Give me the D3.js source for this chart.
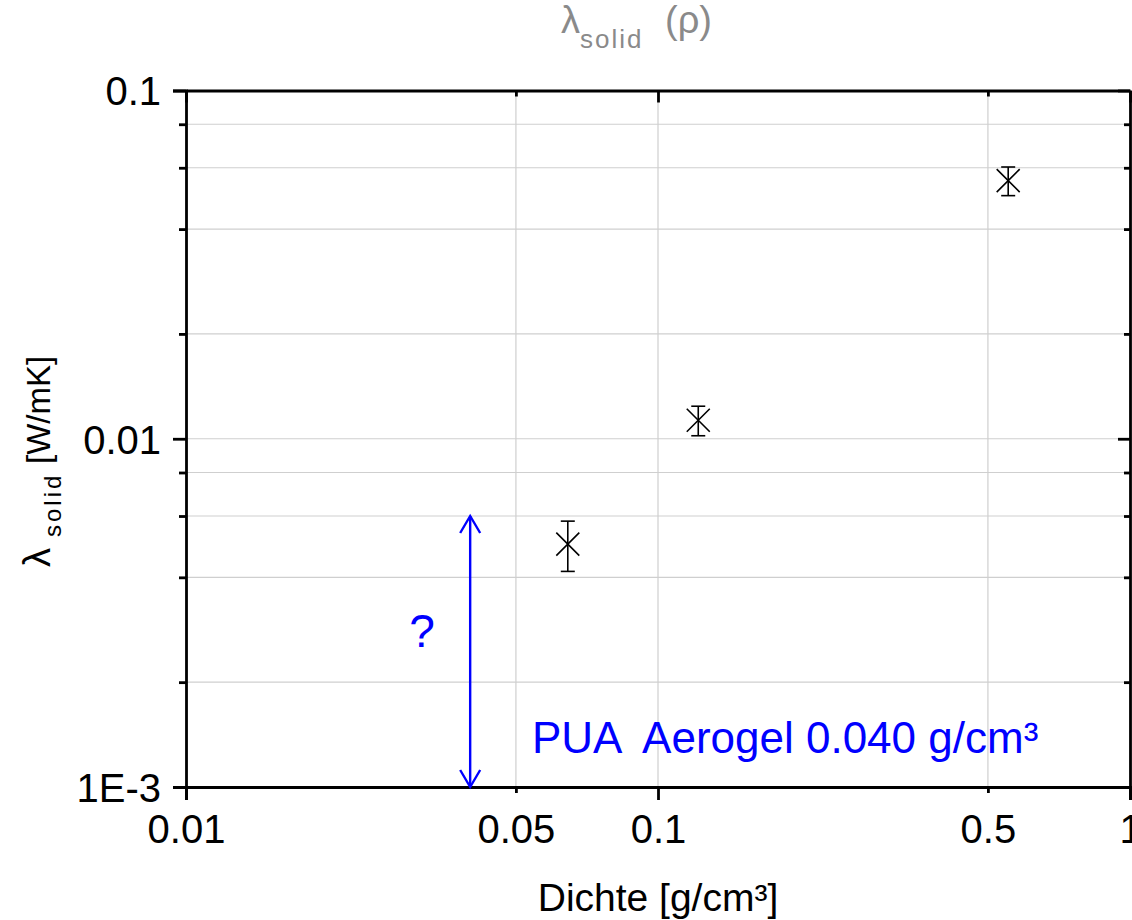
<!DOCTYPE html>
<html>
<head>
<meta charset="utf-8">
<script src="https://cdn.jsdelivr.net/npm/d3@7"></script>
<style>
  body { margin: 0; background: #fff; }
  text { font-family: Arial, "Liberation Sans", Helvetica, sans-serif; }
</style>
</head>
<body>
<svg id="chart" width="1132" height="920"></svg>
<script>
// Solid thermal conductivity vs. density (log-log)
const densities   = [0.0644, 0.1217, 0.552];     // g/cm³
const lambdaSolid = [0.00498, 0.0113, 0.0551];   // W/mK
const lambdaErr   = [0.00082, 0.0011, 0.0052];   // ± W/mK

const xTickValues = [0.01, 0.05, 0.1, 0.5, 1];
const xTickLabels = ["0.01", "0.05", "0.1", "0.5", "1"];
const xMajorTicks = [0.01, 0.1, 1];
const yTickValues = [0.001, 0.01, 0.1];
const yTickLabels = ["1E-3", "0.01", "0.1"];
const yMinorTicks = [0.002, 0.004, 0.006, 0.008, 0.02, 0.04, 0.06, 0.08];

// PUA aerogel annotation: density and the open λ range
const aerogelDensity = [0.040];
const aerogelRange   = [0.001, 0.006];
const aerogelLabel   = ["PUA  Aerogel 0.040 g/cm³"];

const svg = d3.select("#chart");
const L = 186, R = 1130, T = 90.5, B = 787;

const x = d3.scaleLog().domain([0.01, 1]).range([L, R]);
const y = d3.scaleLog().domain([0.001, 0.1]).range([B, T]);

const grid = "#cfcfcf", axisW = 2.8, ink = "#000";

// grid lines
svg.append("g").selectAll("line")
  .data(yMinorTicks.concat([0.01]))
  .join("line")
  .attr("x1", L).attr("x2", R)
  .attr("y1", d => y(d)).attr("y2", d => y(d))
  .attr("stroke", grid).attr("stroke-width", 1.2);
svg.append("g").selectAll("line")
  .data([0.05, 0.1, 0.5])
  .join("line")
  .attr("y1", T).attr("y2", B)
  .attr("x1", d => x(d)).attr("x2", d => x(d))
  .attr("stroke", grid).attr("stroke-width", 1.2);

function styleAxis(g) {
  g.select(".domain").attr("stroke", ink).attr("stroke-width", axisW);
  g.selectAll(".tick line").attr("stroke", ink).attr("stroke-width", axisW);
}

// bottom axis
const xLabel = d => xTickLabels[xTickValues.indexOf(d)];
const gxB = svg.append("g").attr("transform", `translate(0,${B})`)
  .call(d3.axisBottom(x).tickValues(xTickValues).tickFormat(xLabel).tickSizeOuter(0).tickSize(13));
styleAxis(gxB);
gxB.selectAll(".tick line").attr("y2", d => xMajorTicks.includes(d) ? 13 : 6);
gxB.selectAll(".tick text").attr("y", 56).attr("dy", 0)
  .attr("font-size", 40).attr("fill", ink);

// top axis
const gxT = svg.append("g").attr("transform", `translate(0,${T})`)
  .call(d3.axisTop(x).tickValues(xTickValues).tickFormat("").tickSizeOuter(0).tickSize(0));
styleAxis(gxT);
gxT.selectAll(".tick line").attr("y2", d => xMajorTicks.includes(d) ? 12 : 6);

// left axis
const yLabel = d => yTickLabels[yTickValues.indexOf(d)];
const gyL = svg.append("g").attr("transform", `translate(${L},0)`)
  .call(d3.axisLeft(y).tickValues(yTickValues.concat(yMinorTicks))
    .tickFormat(d => yTickValues.includes(d) ? yLabel(d) : "").tickSizeOuter(0).tickSize(13));
styleAxis(gyL);
gyL.selectAll(".tick line").attr("x2", d => yTickValues.includes(d) ? -13 : -7);
gyL.selectAll(".tick text").attr("x", -25).attr("dy", "0.36em")
  .attr("font-size", 40).attr("fill", ink);

// right axis
const gyR = svg.append("g").attr("transform", `translate(${R},0)`)
  .call(d3.axisRight(y).tickValues(yTickValues.concat(yMinorTicks))
    .tickFormat("").tickSizeOuter(0).tickSize(0));
styleAxis(gyR);
gyR.selectAll(".tick line").attr("x2", d => yTickValues.includes(d) ? -12 : -6);

// data: error bars and cross markers
const pts = densities.map((d, i) => ({ x: d, y: lambdaSolid[i], e: lambdaErr[i] }));
const gp = svg.append("g").attr("stroke", ink).attr("stroke-width", 1.6).attr("fill", "none");
const cap = 7, ms = 11.5;
pts.forEach(p => {
  const cx = x(p.x), cy = y(p.y), y1 = y(p.y + p.e), y0 = y(p.y - p.e);
  gp.append("line").attr("x1", cx).attr("x2", cx).attr("y1", y1).attr("y2", y0);
  gp.append("line").attr("x1", cx - cap).attr("x2", cx + cap).attr("y1", y1).attr("y2", y1);
  gp.append("line").attr("x1", cx - cap).attr("x2", cx + cap).attr("y1", y0).attr("y2", y0);
  gp.append("path").attr("d", `M${cx - ms},${cy - ms}L${cx + ms},${cy + ms}M${cx - ms},${cy + ms}L${cx + ms},${cy - ms}`);
});

// aerogel double arrow
const blue = "#0000ff";
const ax = x(aerogelDensity[0]), aTop = y(aerogelRange[1]), aBot = y(aerogelRange[0]);
const ga = svg.append("g").attr("stroke", blue).attr("stroke-width", 2.4).attr("fill", "none")
  .attr("stroke-linejoin", "miter");
ga.append("line").attr("x1", ax).attr("x2", ax).attr("y1", aTop).attr("y2", aBot);
ga.append("path").attr("d", `M${ax - 10},${aTop + 17}L${ax},${aTop}L${ax + 10},${aTop + 17}`);
ga.append("path").attr("d", `M${ax - 10},${aBot - 17}L${ax},${aBot}L${ax + 10},${aBot - 17}`);

svg.append("text").attr("x", 422).attr("y", 647).attr("text-anchor", "middle")
  .attr("font-size", 46).attr("fill", blue).text("?");
svg.append("text").attr("x", 532).attr("y", 753)
  .attr("font-size", 44).attr("fill", blue).attr("xml:space", "preserve").text(aerogelLabel[0]);

// axis titles
svg.append("text").attr("x", (L + R) / 2).attr("y", 911).attr("text-anchor", "middle")
  .attr("font-size", 39).attr("fill", ink).text("Dichte [g/cm³]");

const yt = svg.append("text").attr("transform", "translate(50,567) rotate(-90)")
  .attr("font-size", 33).attr("fill", ink);
yt.append("tspan").attr("x", 0).attr("y", 0).attr("font-size", 38).text("λ");
yt.append("tspan").attr("x", 30).attr("y", 11).attr("font-size", 24).attr("letter-spacing", 3).text("solid");
yt.append("tspan").attr("x", 103).attr("y", 0).text("[W/mK]");

// chart title
const tt = svg.append("text").attr("font-size", 38).attr("fill", "#8a8a8a");
tt.append("tspan").attr("x", 561).attr("y", 33).text("λ");
tt.append("tspan").attr("x", 580).attr("y", 48).attr("font-size", 26).attr("letter-spacing", 2).text("solid");
tt.append("tspan").attr("x", 665).attr("y", 33).text("(ρ)");
</script>
</body>
</html>
